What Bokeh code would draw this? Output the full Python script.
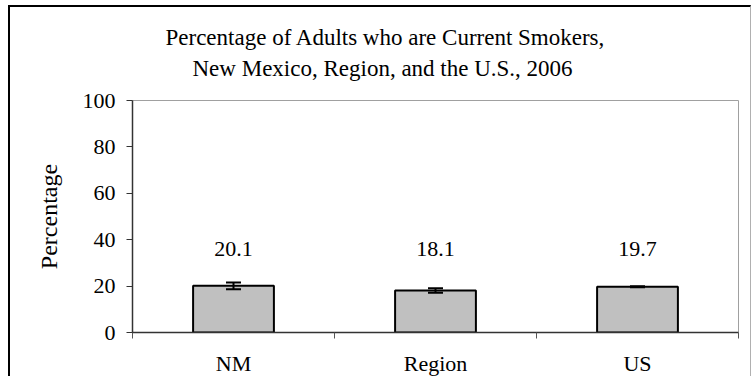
import numpy as np
from bokeh.plotting import figure
from bokeh.models import (ColumnDataSource, Range1d, FixedTicker, Whisker, TeeHead, Title)
from bokeh.core.properties import value
from bokeh.embed import file_html
from bokeh.resources import INLINE

categories = ["NM", "Region", "US"]
percentages = [20.1, 18.1, 19.7]
errors = [1.5, 1.0, 0.2]
y_ticks = [0, 20, 40, 60, 80, 100]
title_lines = ["Percentage of Adults who are Current Smokers,",
               "New Mexico, Region, and the U.S., 2006"]

FONT = "Liberation Serif"
LABEL_Y = 36

xs = np.arange(len(categories)) + 0.5
src = ColumnDataSource(dict(
    x=xs, top=percentages,
    upper=[v + e for v, e in zip(percentages, errors)],
    lower=[v - e for v, e in zip(percentages, errors)],
    lab=[f"{v:.1f}" for v in percentages],
    ly=[LABEL_Y] * len(categories),
))

p = figure(width=743, height=371, output_backend="svg", toolbar_location=None,
           x_range=Range1d(0, len(categories)), y_range=Range1d(0, 100),
           title_location=None,
           min_border_left=122, min_border_right=15, min_border_top=93, min_border_bottom=42)
p.styles = {"margin-left": "8px", "margin-top": "5px",
            "border-left": "2px solid black", "border-top": "2px solid black",
            "border-right": "1px solid #b0b0b0"}
p.grid.visible = False
p.outline_line_color = "#a0a0a0"
p.outline_line_width = 1
p.background_fill_color = "white"
p.border_fill_color = "white"

p.vbar(x="x", top="top", width=0.4, source=src, fill_color="#C0C0C0",
       line_color="black", line_width=2)

w = Whisker(base="x", upper="upper", lower="lower", source=src, dimension="height",
            line_color="black", line_width=2, level="overlay",
            upper_head=TeeHead(size=15, line_color="black", line_width=2),
            lower_head=TeeHead(size=15, line_color="black", line_width=2))
p.add_layout(w)

p.text(x="x", y="ly", text="lab", source=src, text_align="center",
       text_baseline="middle", text_font=value(FONT), text_font_size="22px",
       text_color="black")

# axes
ya = p.yaxis[0]
ya.ticker = FixedTicker(ticks=y_ticks)
ya.axis_line_color = "#333333"
ya.axis_line_width = 1.5
ya.major_tick_line_color = "#333333"
ya.major_tick_out = 6
ya.major_tick_in = 0
ya.minor_tick_line_color = None
ya.major_label_standoff = 11
ya.major_label_text_font = FONT
ya.major_label_text_font_size = "22px"
ya.major_label_text_color = "black"
ya.axis_label = "Percentage"
ya.axis_label_text_font = FONT
ya.axis_label_text_font_size = "24px"
ya.axis_label_text_font_style = "normal"
ya.axis_label_text_color = "black"
ya.axis_label_standoff = 18

xa = p.xaxis[0]
xa.ticker = FixedTicker(ticks=list(xs), minor_ticks=list(range(len(categories) + 1)))
xa.major_label_overrides = {float(x): c for x, c in zip(xs, categories)}
xa.axis_line_color = "#333333"
xa.axis_line_width = 1.5
xa.major_tick_line_color = None
xa.major_tick_out = 6
xa.major_tick_in = 0
xa.minor_tick_line_color = "#555555"
xa.minor_tick_out = 6
xa.minor_tick_in = 0
xa.major_label_standoff = 12
xa.major_label_text_font = FONT
xa.major_label_text_font_size = "22px"
xa.major_label_text_color = "black"

# spacer between frame and title block
p.add_layout(Title(text=" ", text_font_size="1px", standoff=15), "above")

# title lines (second line closest to the frame)
offsets = [33, 60]
standoffs = [4, 4]
for t, off, so in reversed(list(zip(title_lines, offsets, standoffs))):
    p.add_layout(Title(text=t, align="left", offset=off, text_font=FONT,
                       text_font_size="23px", text_font_style="normal",
                       text_color="black", standoff=so), "above")

open("out.html", "w").write(file_html(p, INLINE))
